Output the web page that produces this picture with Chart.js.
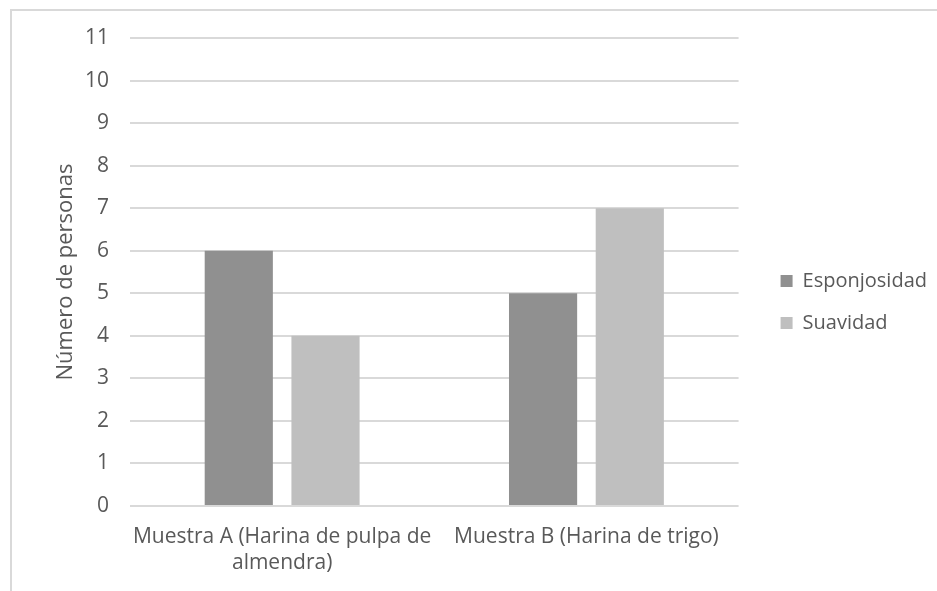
<!DOCTYPE html>
<html>
<head>
<meta charset="utf-8">
<script src="https://cdn.jsdelivr.net/npm/chart.js@4.4.1/dist/chart.umd.min.js"></script>
<style>
  html, body { margin: 0; padding: 0; background: #fff; overflow: hidden; }
  .frame { position: absolute; left: 10px; top: 9px; width: 2000px; height: 2000px; border: 2px solid #d9d9d9; }
  #chart { position: absolute; left: 0; top: 0; }
</style>
</head>
<body>
<div class="frame"></div>
<canvas id="chart" width="937" height="591"></canvas>
<script>
var categories = [["Muestra A (Harina de pulpa de", "almendra)"], "Muestra B (Harina de trigo)"];
var seriesNames = ["Esponjosidad", "Suavidad"];
var esponjosidad = [6, 5];
var suavidad = [4, 7];
var yMin = 0;
var yMax = 11;
var yStep = 1;
var yTitle = "Número de personas";

var FONT = "'Open Sans', 'Noto Sans', sans-serif";
var TEXT = "#595959";
var GRID = "#d9d9d9";

// spacer axes: keep room between plot and legend / top edge
function spacer(pos, size) {
  return {
    type: "linear", position: pos, display: true,
    grid: { display: false }, border: { display: false }, ticks: { display: false },
    afterFit: function (s) {
      if (pos === "top") s.height = size; else s.width = size;
    }
  };
}

function draw() {
  new Chart(document.getElementById("chart"), {
    type: "bar",
    data: {
      labels: categories,
      datasets: [
        { label: seriesNames[0], data: esponjosidad, backgroundColor: "#909090", borderWidth: 0 },
        { label: seriesNames[1], data: suavidad, backgroundColor: "#bfbfbf", borderWidth: 0 }
      ]
    },
    options: {
      responsive: false,
      animation: false,
      categoryPercentage: 0.57,
      barPercentage: 0.786,
      layout: { padding: { top: 13, bottom: 0, left: 0, right: 0 } },
      scales: {
        x: {
          grid: { display: false },
          border: { display: false },
          ticks: {
            color: TEXT, padding: 10, maxRotation: 0, autoSkip: false,
            font: { family: FONT, size: 21, lineHeight: 1.24 }
          },
          afterFit: function (s) { s.height = 85; }
        },
        y: {
          min: yMin, max: yMax,
          grid: { color: GRID, lineWidth: 2, drawTicks: false },
          border: { display: false },
          ticks: { stepSize: yStep, color: TEXT, padding: 21, font: { family: FONT, size: 21 } },
          title: { display: true, text: yTitle, color: TEXT, padding: { top: 53, bottom: 0 }, font: { family: FONT, size: 22 } },
          afterFit: function (s) { s.width = 130; }
        },
        gapRight: spacer("right", 20),
        gapTop: spacer("top", 25)
      },
      plugins: {
        legend: {
          position: "right",
          maxWidth: 220,
          labels: {
            color: TEXT, boxWidth: 12, boxHeight: 12, padding: 22,
            font: { family: FONT, size: 20 }
          }
        },
        tooltip: { enabled: false }
      }
    }
  });
}

Promise.all([
  document.fonts.load("20px 'Open Sans'"),
  document.fonts.load("21px 'Open Sans'"),
  document.fonts.load("22px 'Open Sans'")
]).then(draw, draw);
</script>
</body>
</html>
